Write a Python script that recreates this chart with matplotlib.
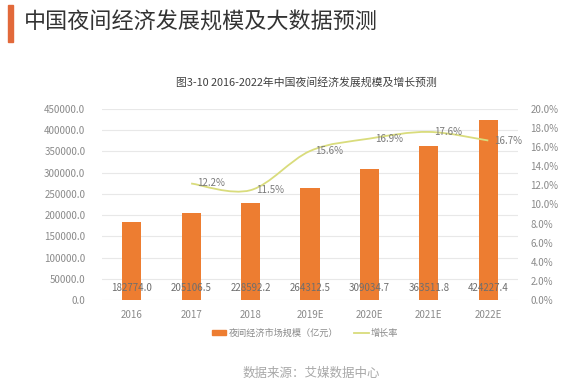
import matplotlib
matplotlib.use("Agg")
import matplotlib.pyplot as plt
import numpy as np
from matplotlib.path import Path
from matplotlib.patches import PathPatch, Rectangle
from matplotlib.lines import Line2D

plt.rcParams["font.family"] = ["Noto Sans CJK SC", "DejaVu Sans"]

years = ["2016", "2017", "2018", "2019E", "2020E", "2021E", "2022E"]
market_size = [182774.0, 205106.5, 228592.2, 264312.5, 309034.7, 363511.8, 424227.4]
growth_years = ["2017", "2018", "2019E", "2020E", "2021E", "2022E"]
growth_rate = [12.2, 11.5, 15.6, 16.9, 17.6, 16.7]

BAR_COLOR = "#ed7d31"
LINE_COLOR = "#d9dc7c"
TICK_COLOR = "#8a8a8a"
GRID_COLOR = "#e8e8e8"


def smooth_path(xs, ys, tension=1 / 6):
    # Excel-style smoothed line: Catmull-Rom converted to cubic Bezier segments
    xs = np.asarray(xs, dtype=float)
    ys = np.asarray(ys, dtype=float)
    verts = [(xs[0], ys[0])]
    codes = [Path.MOVETO]
    n = len(xs)
    for i in range(n - 1):
        i0 = max(i - 1, 0)
        i3 = min(i + 2, n - 1)
        c1 = (xs[i] + (xs[i + 1] - xs[i0]) * tension, ys[i] + (ys[i + 1] - ys[i0]) * tension)
        c2 = (xs[i + 1] - (xs[i3] - xs[i]) * tension, ys[i + 1] - (ys[i3] - ys[i]) * tension)
        verts += [c1, c2, (xs[i + 1], ys[i + 1])]
        codes += [Path.CURVE4] * 3
    return Path(verts, codes)


fig = plt.figure(figsize=(5.63, 3.84), dpi=100)
fig.patch.set_facecolor("white")

# header
fig.patches.append(Rectangle((8 / 563, 1 - 42 / 384), 5 / 563, 37 / 384,
                             transform=fig.transFigure, color="#e2693a", zorder=5))
fig.text(24 / 563, 1 - 23 / 384, "中国夜间经济发展规模及大数据预测",
         fontsize=15.9, color="#333333", va="center", ha="left")

fig.text(306 / 563, 1 - 82 / 384, "图3-10 2016-2022年中国夜间经济发展规模及增长预测",
         fontsize=7.8, color="#404040", va="center", ha="center")

ax = fig.add_axes([102 / 563, 1 - 300 / 384, 416 / 563, 191 / 384])
x = np.arange(len(years))
ax.bar(x, market_size, width=0.32, color=BAR_COLOR, zorder=2)
ax.set_xlim(-0.5, len(years) - 0.5)
ax.set_ylim(0, 450000)
ax.set_yticks(np.arange(0, 450001, 50000))
ax.set_yticklabels([f"{v:.1f}" for v in np.arange(0, 450001, 50000)])
ax.set_xticks(x)
ax.set_xticklabels(years)
ax.grid(axis="y", color=GRID_COLOR, linewidth=0.8, zorder=0)
ax.set_axisbelow(True)
for s in ax.spines.values():
    s.set_visible(False)
ax.tick_params(length=0, colors=TICK_COLOR, labelsize=7)
ax.tick_params(axis="y", pad=12)
ax.tick_params(axis="x", pad=7)

for xi, v in zip(x, market_size):
    ax.text(xi, 28000, f"{v:.1f}", ha="center", va="center",
            fontsize=7, color="#6e6e6e", zorder=4)

ax2 = ax.twinx()
ax2.set_ylim(0, 20)
ax2.set_yticks(np.arange(0, 20.1, 2))
ax2.set_yticklabels([f"{v:.1f}%" for v in np.arange(0, 20.1, 2)])
for s in ax2.spines.values():
    s.set_visible(False)
ax2.tick_params(length=0, colors=TICK_COLOR, labelsize=7, pad=9)

gx = [years.index(y) for y in growth_years]
ax2.add_patch(PathPatch(smooth_path(gx, growth_rate), facecolor="none",
                        edgecolor=LINE_COLOR, linewidth=1.3, zorder=3))
for xi, r in zip(gx, growth_rate):
    ax2.annotate(f"{r:.1f}%", (xi, r), xytext=(4, 0), textcoords="offset points",
                 ha="left", va="center", fontsize=7, color="#7a7a7a", zorder=4)

handles = [Rectangle((0, 0), 1, 1, color=BAR_COLOR),
           Line2D([0], [0], color=LINE_COLOR, linewidth=1.3)]
fig.legend(handles, ["夜间经济市场规模（亿元）", "增长率"], loc="center",
           bbox_to_anchor=(305 / 563, 1 - 333 / 384), ncol=2, frameon=False,
           fontsize=6.6, labelcolor=TICK_COLOR, handlelength=1.6, handleheight=0.5,
           columnspacing=1.8, handletextpad=0.2)

fig.text(311 / 563, 1 - 373 / 384, "数据来源：艾媒数据中心", fontsize=9,
         color="#a8a8a8", ha="center", va="center")

fig.savefig("out.png", dpi=100)
